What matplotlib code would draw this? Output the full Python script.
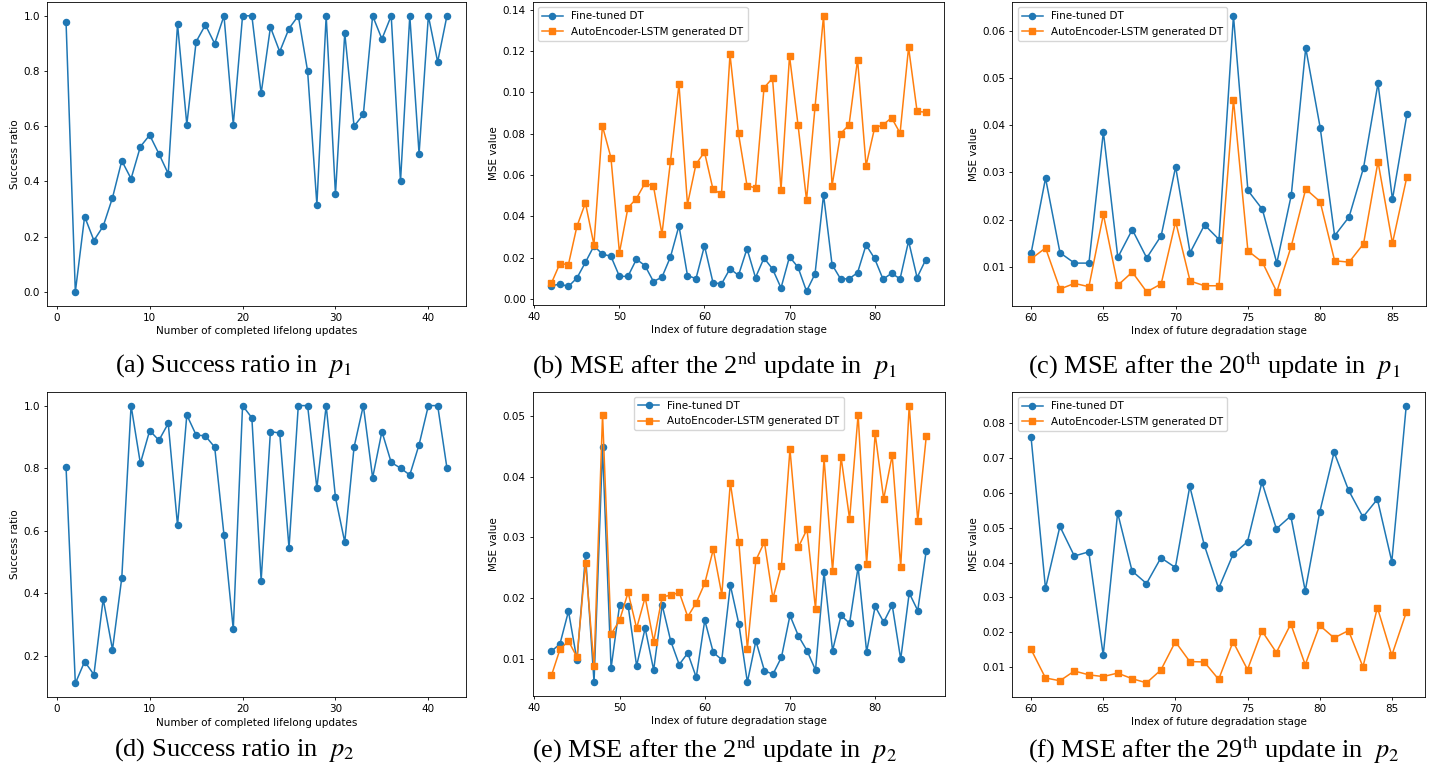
import matplotlib.pyplot as plt

plt.rcParams["mathtext.fontset"] = "stix"

FS = 7.5      # tick / label size
LW = 1.1
MS = 4.4

# success ratio after each completed lifelong update
updates = list(range(1, 43))
success_p1 = [0.978, 0.0, 0.273, 0.186, 0.238, 0.341, 0.475, 0.41, 0.526, 0.568,
              0.50, 0.428, 0.97, 0.606, 0.906, 0.967, 0.899, 1.0, 0.606, 1.0,
              1.0, 0.719, 0.959, 0.870, 0.954, 1.0, 0.80, 0.316, 1.0, 0.353,
              0.9375, 0.60, 0.643, 1.0, 0.916, 1.0, 0.40, 1.0, 0.50, 1.0,
              0.833, 1.0]
success_p2 = [0.804, 0.111, 0.181, 0.139, 0.381, 0.219, 0.449, 1.0, 0.815, 0.92,
              0.889, 0.943, 0.617, 0.970, 0.906, 0.903, 0.867, 0.586, 0.284, 1.0,
              0.961, 0.44, 0.917, 0.912, 0.545, 1.0, 1.0, 0.736, 1.0, 0.706,
              0.563, 0.867, 1.0, 0.769, 0.917, 0.818, 0.80, 0.778, 0.875, 1.0,
              1.0, 0.80]

# MSE after the 2nd update in p1 (stages 42..86)
stages_2nd = list(range(42, 87))
ft_p1_2nd = [0.0063, 0.0072, 0.0060, 0.0101, 0.0177, 0.0256, 0.0217, 0.0206, 0.0109, 0.0109,
             0.0192, 0.0161, 0.0084, 0.0105, 0.0203, 0.0354, 0.0113, 0.0098, 0.0257, 0.0079,
             0.0072, 0.0146, 0.0114, 0.0243, 0.0103, 0.0198, 0.0145, 0.0053, 0.0204, 0.0153,
             0.0037, 0.0121, 0.0504, 0.0166, 0.0097, 0.0097, 0.0127, 0.0261, 0.0196, 0.0095,
             0.0124, 0.0097, 0.0280, 0.0103, 0.0188]
ae_p1_2nd = [0.0076, 0.0171, 0.0166, 0.0351, 0.0465, 0.0262, 0.0837, 0.0684, 0.0224, 0.0441,
             0.0486, 0.0560, 0.0546, 0.0314, 0.0666, 0.1040, 0.0457, 0.0652, 0.0711, 0.0531,
             0.0507, 0.1184, 0.0801, 0.0549, 0.0537, 0.1022, 0.1069, 0.0529, 0.1176, 0.0843,
             0.0478, 0.0929, 0.1371, 0.0547, 0.0800, 0.0843, 0.1159, 0.0645, 0.0827, 0.0843,
             0.0877, 0.0803, 0.1218, 0.0908, 0.0904]

# MSE after the 20th update in p1 (stages 60..86)
stages_late = list(range(60, 87))
ft_p1_20th = [0.0129, 0.0288, 0.0130, 0.0108, 0.0108, 0.0386, 0.0120, 0.0179, 0.0119, 0.0166,
              0.0312, 0.0130, 0.0189, 0.0158, 0.0632, 0.0262, 0.0222, 0.0108, 0.0252, 0.0564,
              0.0395, 0.0166, 0.0206, 0.0310, 0.0489, 0.0243, 0.0423]
ae_p1_20th = [0.0117, 0.0140, 0.0053, 0.0065, 0.0058, 0.0211, 0.0061, 0.0089, 0.0047, 0.0064,
              0.0196, 0.0070, 0.0060, 0.0060, 0.0454, 0.0134, 0.0110, 0.0047, 0.0144, 0.0265,
              0.0238, 0.0113, 0.0110, 0.0149, 0.0323, 0.0150, 0.0291]

# MSE after the 2nd update in p2
ft_p2_2nd = [0.0112, 0.0124, 0.0178, 0.0097, 0.0271, 0.0061, 0.0448, 0.0084, 0.0188, 0.0187,
             0.0088, 0.0150, 0.0081, 0.0188, 0.0129, 0.0090, 0.0109, 0.0069, 0.0163, 0.0110,
             0.0098, 0.0221, 0.0157, 0.0061, 0.0129, 0.0080, 0.0074, 0.0102, 0.0171, 0.0137,
             0.0113, 0.0081, 0.0242, 0.0113, 0.0171, 0.0158, 0.0251, 0.0111, 0.0186, 0.0160,
             0.0188, 0.0099, 0.0208, 0.0179, 0.0278]
ae_p2_2nd = [0.0072, 0.0115, 0.0129, 0.0102, 0.0258, 0.0087, 0.0502, 0.0140, 0.0163, 0.0209,
             0.0150, 0.0201, 0.0128, 0.0202, 0.0204, 0.0209, 0.0169, 0.0192, 0.0224, 0.0280,
             0.0205, 0.0390, 0.0292, 0.0116, 0.0262, 0.0292, 0.0199, 0.0253, 0.0445, 0.0284,
             0.0313, 0.0182, 0.0430, 0.0245, 0.0432, 0.0330, 0.0502, 0.0256, 0.0471, 0.0363,
             0.0435, 0.0251, 0.0517, 0.0327, 0.0466]

# MSE after the 29th update in p2
ft_p2_29th = [0.0760, 0.0326, 0.0504, 0.0419, 0.0431, 0.0135, 0.0543, 0.0376, 0.0340, 0.0414,
              0.0386, 0.0619, 0.0451, 0.0326, 0.0424, 0.0460, 0.0631, 0.0497, 0.0534, 0.0319,
              0.0544, 0.0717, 0.0608, 0.0531, 0.0582, 0.0403, 0.0850]
ae_p2_29th = [0.0151, 0.0069, 0.0061, 0.0089, 0.0078, 0.0073, 0.0083, 0.0067, 0.0055, 0.0092,
              0.0173, 0.0116, 0.0115, 0.0065, 0.0173, 0.0093, 0.0204, 0.0142, 0.0224, 0.0107,
              0.0220, 0.0184, 0.0205, 0.0101, 0.0271, 0.0134, 0.0257]

captions = [
    r"(a) Success ratio in  $p_1$",
    r"(b) MSE after the 2$^{\mathrm{nd}}$ update in  $p_1$",
    r"(c) MSE after the 20$^{\mathrm{th}}$ update in  $p_1$",
    r"(d) Success ratio in  $p_2$",
    r"(e) MSE after the 2$^{\mathrm{nd}}$ update in  $p_2$",
    r"(f) MSE after the 29$^{\mathrm{th}}$ update in  $p_2$",
]

fig = plt.figure(figsize=(14.38, 7.76), dpi=100)
W, H = 1438, 776


def add_axes(left, top, right, bottom):
    return fig.add_axes([left / W, 1 - bottom / H, (right - left) / W, (bottom - top) / H])


def style(ax, xlabel, ylabel):
    ax.set_xlabel(xlabel, fontsize=FS, labelpad=2.5)
    ax.set_ylabel(ylabel, fontsize=FS, labelpad=2.5)
    ax.tick_params(labelsize=FS, width=0.6, length=2.5, pad=2.5)
    for s in ax.spines.values():
        s.set_linewidth(0.6)


def success_panel(ax, y):
    ax.plot(updates, y, "-o", color="#1f77b4", lw=LW, ms=MS)
    style(ax, "Number of completed lifelong updates", "Success ratio")


def mse_panel(ax, x, ft, ae, loc):
    ax.plot(x, ft, "-o", color="#1f77b4", lw=LW, ms=MS, label="Fine-tuned DT")
    ax.plot(x, ae, "-s", color="#ff7f0e", lw=LW, ms=MS, label="AutoEncoder-LSTM generated DT")
    style(ax, "Index of future degradation stage", "MSE value")
    ax.legend(loc=loc, fontsize=FS, handlelength=2.0, borderpad=0.4, labelspacing=0.5)


ax_a = add_axes(47, 2, 466, 305.7)
ax_b = add_axes(532.7, 2, 944.3, 305)
ax_c = add_axes(1012.3, 2, 1425.7, 305.7)
ax_d = add_axes(47, 391.7, 466, 697.3)
ax_e = add_axes(532.7, 391.7, 945, 696)
ax_f = add_axes(1012.3, 392, 1425, 696.7)

success_panel(ax_a, success_p1)
mse_panel(ax_b, stages_2nd, ft_p1_2nd, ae_p1_2nd, "upper left")
mse_panel(ax_c, stages_late, ft_p1_20th, ae_p1_20th, "upper left")
success_panel(ax_d, success_p2)
mse_panel(ax_e, stages_2nd, ft_p2_2nd, ae_p2_2nd, "upper center")
mse_panel(ax_f, stages_late, ft_p2_29th, ae_p2_29th, "upper left")

cap_x = [234, 715, 1214]
cap_y = [366, 750]
for i, cap in enumerate(captions):
    fig.text(cap_x[i % 3] / W, 1 - cap_y[i // 3] / H, cap, ha="center", va="center",
             fontsize=19, family="Liberation Serif")

fig.savefig("out.png", dpi=100)
